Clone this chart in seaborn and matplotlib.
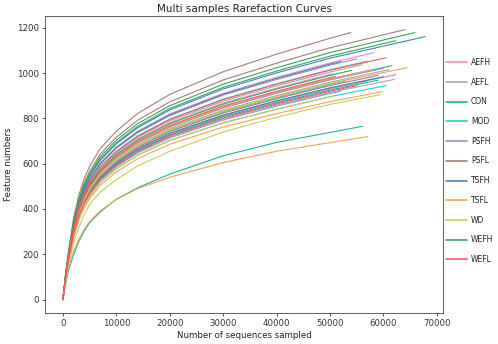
import matplotlib
matplotlib.use("Agg")
import matplotlib.pyplot as plt
import seaborn as sns
import pandas as pd

# sequencing depths at which every curve is read (the last value of each row is at the curve's end depth)
depth_grid = [0, 500, 1000, 2000, 3000, 4000, 5000, 7000, 10000, 14000, 20000, 30000, 40000, 50000]

groups = ["AEFH", "AEFL", "CON", "MOD", "PSFH", "PSFL", "TSFH", "TSFL", "WD", "WEFH", "WEFL"]
group_colors = ["#f28cc2", "#a8a8a8", "#17b897", "#2bcbd6", "#a88bcc", "#a57c78",
                "#3f88b0", "#f5a25a", "#c5cf5a", "#3aa060", "#f25c5c"]

AEFH_end = [58200, 50500, 57000]
AEFH_y = [[0, 104, 188, 327, 420, 485, 533, 604, 674, 744, 820, 911, 981, 1045, 1090],
          [0, 100, 179, 311, 400, 462, 507, 575, 642, 708, 781, 868, 934, 995, 998],
          [0, 93, 167, 291, 374, 431, 474, 537, 600, 662, 730, 811, 873, 930, 965]]

AEFL_end = [56000, 61000, 62000]
AEFL_y = [[0, 100, 181, 315, 404, 466, 513, 581, 648, 716, 789, 876, 944, 1005, 1037],
          [0, 96, 173, 300, 386, 445, 490, 555, 619, 684, 754, 837, 901, 960, 1015],
          [0, 91, 165, 286, 368, 425, 467, 529, 590, 651, 718, 798, 859, 915, 972]]

CON_end = [61600, 59000, 56000]
CON_y = [[0, 97, 175, 305, 391, 452, 497, 563, 628, 693, 765, 849, 915, 974, 1033],
         [0, 92, 166, 289, 372, 429, 472, 535, 597, 659, 726, 807, 869, 925, 969],
         [0, 70, 125, 199, 258, 303, 339, 387, 443, 494, 554, 635, 694, 738, 765]]

MOD_end = [57000, 53000, 60500]
MOD_y = [[0, 101, 183, 318, 408, 471, 518, 587, 655, 723, 797, 885, 953, 1015, 1053],
         [0, 95, 171, 297, 382, 441, 484, 549, 613, 676, 746, 828, 892, 950, 966],
         [0, 90, 161, 280, 360, 416, 457, 518, 578, 638, 703, 781, 841, 896, 945]]

PSFH_end = [55000, 60000, 62300, 52000]
PSFH_y = [[0, 103, 186, 324, 416, 480, 528, 598, 668, 737, 812, 903, 972, 1035, 1063],
          [0, 97, 175, 304, 390, 450, 495, 561, 626, 691, 761, 846, 911, 970, 1021],
          [0, 93, 168, 292, 375, 433, 476, 539, 602, 665, 733, 814, 877, 934, 993],
          [0, 91, 164, 285, 366, 422, 464, 526, 587, 648, 714, 793, 854, 910, 920]]

PSFL_end = [53900, 64000, 59000]
PSFL_y = [[0, 115, 208, 361, 464, 535, 589, 667, 744, 822, 906, 1006, 1084, 1154, 1179],
          [0, 111, 200, 348, 447, 516, 567, 643, 717, 792, 873, 970, 1044, 1112, 1192],
          [0, 94, 170, 296, 380, 438, 482, 546, 609, 673, 742, 824, 887, 945, 990]]

TSFH_end = [67800, 52000, 60000]
TSFH_y = [[0, 107, 192, 334, 429, 495, 544, 616, 688, 759, 837, 930, 1001, 1066, 1161],
          [0, 104, 187, 326, 418, 483, 530, 601, 671, 740, 816, 907, 977, 1040, 1051],
          [0, 93, 168, 293, 376, 434, 477, 540, 603, 666, 734, 815, 878, 935, 984]]

TSFL_end = [64400, 58000, 59700, 57100]
TSFL_y = [[0, 95, 172, 298, 383, 442, 486, 551, 615, 679, 749, 832, 896, 954, 1024],
          [0, 97, 175, 305, 392, 452, 497, 564, 629, 694, 765, 850, 916, 975, 1016],
          [0, 87, 157, 274, 351, 405, 446, 505, 564, 622, 686, 762, 821, 874, 918],
          [0, 75, 135, 212, 268, 311, 345, 392, 442, 490, 540, 605, 655, 693, 720]]

WD_end = [55000, 50500, 59400]
WD_y = [[0, 95, 172, 299, 384, 443, 487, 552, 616, 680, 750, 833, 897, 955, 981],
        [0, 90, 161, 280, 360, 415, 456, 517, 577, 637, 702, 780, 840, 895, 898],
        [0, 80, 145, 250, 320, 375, 420, 475, 530, 590, 655, 740, 805, 862, 905]]

WEFH_end = [65900, 62300, 54000]
WEFH_y = [[0, 109, 196, 341, 439, 506, 556, 631, 704, 777, 856, 951, 1024, 1091, 1179],
          [0, 108, 194, 336, 432, 499, 548, 621, 693, 765, 844, 937, 1009, 1075, 1143],
          [0, 99, 178, 310, 398, 459, 505, 572, 639, 705, 777, 863, 930, 990, 1012]]

WEFL_end = [60500, 51000, 55000]
WEFL_y = [[0, 101, 182, 317, 407, 470, 517, 586, 653, 721, 795, 883, 951, 1013, 1068],
          [0, 98, 176, 307, 394, 455, 500, 566, 632, 698, 769, 855, 920, 980, 985],
          [0, 92, 166, 288, 370, 427, 469, 532, 593, 655, 722, 802, 864, 920, 945]]

ends_by_group = [AEFH_end, AEFL_end, CON_end, MOD_end, PSFH_end, PSFL_end,
                 TSFH_end, TSFL_end, WD_end, WEFH_end, WEFL_end]
ys_by_group = [AEFH_y, AEFL_y, CON_y, MOD_y, PSFH_y, PSFL_y,
               TSFH_y, TSFL_y, WD_y, WEFH_y, WEFL_y]

rows = []
for g, ends, ys in zip(groups, ends_by_group, ys_by_group):
    for i, (e, yv) in enumerate(zip(ends, ys)):
        xs = depth_grid + [e]
        for x, v in zip(xs, yv):
            rows.append({"group": g, "sample": f"{g}{i+1}", "depth": x, "features": v})
df = pd.DataFrame(rows)

sns.set_style("ticks")
plt.rcParams["font.family"] = ["DejaVu Sans"]

fig = plt.figure(figsize=(4.98, 3.44), dpi=100)
ax = fig.add_axes([0.090, 0.090, 0.800, 0.863])

sns.lineplot(data=df, x="depth", y="features", hue="group", units="sample",
             estimator=None, sort=False, palette=dict(zip(groups, group_colors)),
             hue_order=groups, linewidth=0.8, ax=ax)

ax.set_xticks([0, 10000, 20000, 30000, 40000, 50000, 60000, 70000])
ax.set_yticks([0, 200, 400, 600, 800, 1000, 1200])
ax.tick_params(labelsize=6.2, length=2.2, width=0.6, colors="#333333", pad=2)
for s in ax.spines.values():
    s.set_linewidth(0.6)
    s.set_color("#444444")
ax.set_xlabel("Number of sequences sampled", fontsize=6.2, color="#222222", labelpad=2)
ax.set_ylabel("Feature numbers", fontsize=6.2, color="#222222", labelpad=3)
ax.set_title("Multi samples Rarefaction Curves", fontsize=7.5, color="#222222", pad=3)

handles, labels = ax.get_legend_handles_labels()
ax.get_legend().remove()
leg = fig.legend(handles, labels, loc="center left", bbox_to_anchor=(0.895, 0.532),
                 frameon=False, fontsize=5.5, handlelength=2.8, handletextpad=0.5,
                 labelspacing=1.4, borderaxespad=0, borderpad=0)
for h in leg.get_lines():
    h.set_linewidth(1.2)
for t in leg.get_texts():
    t.set_color("#222222")

fig.savefig("out.png", dpi=100)
